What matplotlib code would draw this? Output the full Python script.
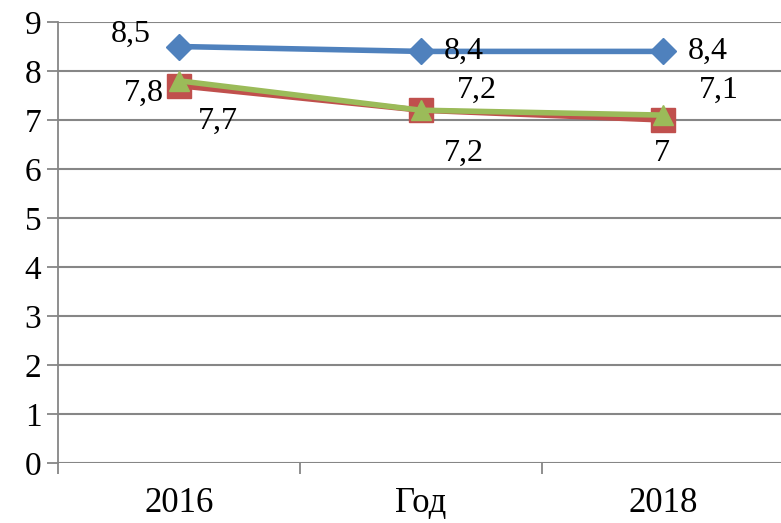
import numpy as np
import matplotlib.pyplot as plt

categories = ["2016", "Год", "2018"]
blue_vals = [8.5, 8.4, 8.4]
red_vals = [7.7, 7.2, 7.0]
green_vals = [7.8, 7.2, 7.1]

plt.rcParams['font.family'] = ['Liberation Serif', 'DejaVu Serif']

fig = plt.figure(figsize=(7.81, 5.23), dpi=100)
ax = fig.add_axes([58 / 781, 60 / 523, 723 / 781, 441 / 523])

x = np.arange(len(categories))

ax.plot(x, blue_vals, color='#4F81BD', lw=4, marker='D', ms=13, zorder=3)
ax.plot(x, red_vals, color='#C0504D', lw=4, marker='s', ms=17, zorder=4)
ax.plot(x, green_vals, color='#9BBB59', lw=4, marker='^', ms=15, zorder=5)

def fmt(v):
    s = f"{v:g}"
    return s.replace('.', ',')

fs = 23

def label(val, xi, dx, dy):
    ax.annotate(fmt(val), (xi, val), xytext=(dx, dy), textcoords='offset points',
                ha='center', va='center', fontsize=fs)

# blue labels
label(blue_vals[0], x[0], -35, 9)
label(blue_vals[1], x[1], 31, 0)
label(blue_vals[2], x[2], 32, 0)
# red labels
label(red_vals[0], x[0], 28, -26)
label(red_vals[1], x[1], 31, -31)
label(red_vals[2], x[2], -1, -24)
# green labels
label(green_vals[0], x[0], -25, -9)
label(green_vals[1], x[1], 40, 14)
label(green_vals[2], x[2], 40, 18)

ax.set_ylim(0, 9)
ax.set_xlim(-0.5, 2.488)
ax.set_yticks(range(0, 10))
ax.tick_params(axis='y', labelsize=24, length=8, width=1.3, color='#868686', pad=4)
ax.yaxis.grid(True, color='#868686', lw=1.5)
ax.set_axisbelow(True)

ax.set_xticks([-0.5, 0.5, 1.5])
ax.set_xticklabels([])
ax.set_xticks(x, minor=True)
ax.set_xticklabels(categories, minor=True)
ax.tick_params(axis='x', which='major', length=8, width=1.3, color='#868686')
ax.tick_params(axis='x', which='minor', length=0, labelsize=25, pad=17)

for s in ('top', 'right', 'bottom'):
    ax.spines[s].set_visible(False)
ax.spines['left'].set_color('#868686')
ax.spines['left'].set_linewidth(1.3)

fig.savefig('out.png', dpi=100)
